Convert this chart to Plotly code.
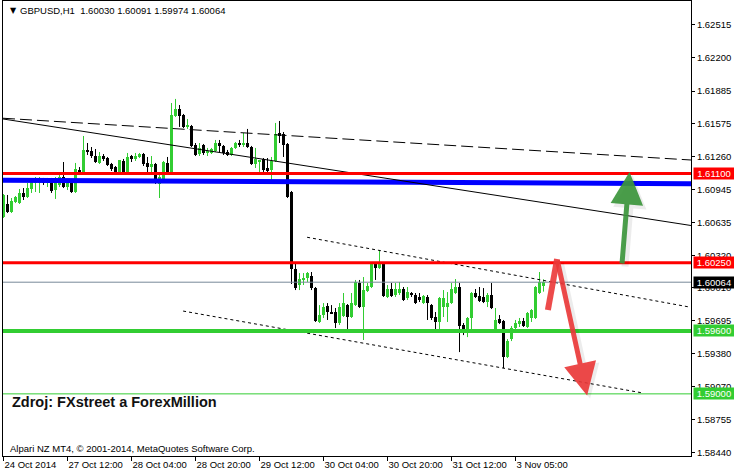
import plotly.graph_objects as go

# ---------------- data (GBPUSD H1) ----------------
opens = [
    1.60685, 1.60809, 1.60733, 1.60828, 1.60818, 1.60914, 1.60876, 1.60952, 1.61009, 1.61009,
    1.61047, 1.61009, 1.61038, 1.60942, 1.60990, 1.61066, 1.60971, 1.61009, 1.60923, 1.61133,
    1.61104, 1.61324, 1.61314, 1.61266, 1.61200, 1.61266, 1.61247, 1.61190, 1.61161, 1.61104,
    1.61219, 1.61114, 1.61257, 1.61247, 1.61257, 1.61285, 1.61200, 1.61161, 1.61190, 1.61000,
    1.61038, 1.61200, 1.61114, 1.61648, 1.61714, 1.61657, 1.61543, 1.61552, 1.61371, 1.61285,
    1.61371, 1.61295, 1.61295, 1.61314, 1.61390, 1.61362, 1.61304, 1.61276, 1.61343, 1.61390,
    1.61371, 1.61390, 1.61352, 1.61190, 1.61209, 1.61238, 1.61152, 1.61133, 1.61219, 1.61486,
    1.61476, 1.61381, 1.60923, 1.60190, 1.60037, 1.60085, 1.60104, 1.60123, 1.60008, 1.59685,
    1.59751, 1.59837, 1.59780, 1.59780, 1.59675, 1.59742, 1.59846, 1.59732, 1.59846, 1.60056,
    1.59827, 1.59980, 1.60018, 1.60247, 1.60199, 1.60237, 1.59923, 1.59999, 1.59942, 1.59961,
    1.59999, 1.59913, 1.59961, 1.59942, 1.59923, 1.59865, 1.59923, 1.59846, 1.59732, 1.59685,
    1.59827, 1.59827, 1.59865, 1.59961, 1.60018, 1.59656, 1.59598, 1.59723, 1.59961, 1.59932,
    1.59923, 1.59875, 1.59942, 1.59608, 1.59713, 1.59694, 1.59351, 1.59522, 1.59627, 1.59665,
    1.59694, 1.59637, 1.59723, 1.59723, 1.59961, 1.60030]

highs = [
    1.60904, 1.60895, 1.60866, 1.60885, 1.60952, 1.60961, 1.61009, 1.61038, 1.61066, 1.61066,
    1.61057, 1.61057, 1.61057, 1.61066, 1.61085, 1.61209, 1.61047, 1.61019, 1.61200, 1.61161,
    1.61457, 1.61390, 1.61352, 1.61333, 1.61304, 1.61285, 1.61257, 1.61200, 1.61171, 1.61228,
    1.61238, 1.61295, 1.61276, 1.61295, 1.61295, 1.61295, 1.61257, 1.61266, 1.61200, 1.61085,
    1.61219, 1.61257, 1.61771, 1.61810, 1.61752, 1.61667, 1.61619, 1.61562, 1.61390, 1.61390,
    1.61381, 1.61343, 1.61343, 1.61419, 1.61419, 1.61371, 1.61324, 1.61352, 1.61400, 1.61419,
    1.61486, 1.61524, 1.61362, 1.61343, 1.61228, 1.61247, 1.61247, 1.61257, 1.61581, 1.61600,
    1.61495, 1.61390, 1.60933, 1.60247, 1.60151, 1.60151, 1.60161, 1.60161, 1.60018, 1.59846,
    1.59865, 1.59865, 1.59846, 1.59818, 1.59865, 1.59961, 1.59856, 1.59961, 1.60085, 1.60085,
    1.60113, 1.60056, 1.60256, 1.60256, 1.60371, 1.60247, 1.60037, 1.60056, 1.60056, 1.60066,
    1.60018, 1.60018, 1.59970, 1.59961, 1.59961, 1.59942, 1.59942, 1.59856, 1.59780, 1.59923,
    1.59989, 1.59970, 1.60056, 1.60094, 1.60056, 1.59675, 1.59732, 1.59970, 1.59999, 1.60018,
    1.60008, 1.59961, 1.60056, 1.59818, 1.59751, 1.59704, 1.59522, 1.59646, 1.59704, 1.59723,
    1.59723, 1.59780, 1.59808, 1.60027, 1.60161, 1.60091]

lows = [
    1.60676, 1.60723, 1.60723, 1.60818, 1.60809, 1.60847, 1.60866, 1.60914, 1.60923, 1.60914,
    1.60990, 1.60971, 1.60914, 1.60857, 1.60971, 1.60961, 1.60942, 1.60914, 1.60914, 1.61085,
    1.61095, 1.61276, 1.61247, 1.61200, 1.61190, 1.61219, 1.61171, 1.61123, 1.61095, 1.61095,
    1.61095, 1.61104, 1.61209, 1.61219, 1.61247, 1.61171, 1.61104, 1.61104, 1.61000, 1.60866,
    1.61028, 1.61104, 1.61104, 1.61638, 1.61543, 1.61533, 1.61524, 1.61352, 1.61266, 1.61266,
    1.61276, 1.61266, 1.61285, 1.61304, 1.61304, 1.61276, 1.61266, 1.61266, 1.61333, 1.61352,
    1.61352, 1.61343, 1.61181, 1.61152, 1.61114, 1.61114, 1.61104, 1.61009, 1.61209, 1.61390,
    1.61257, 1.60866, 1.60047, 1.59989, 1.59989, 1.60037, 1.60066, 1.59989, 1.59685, 1.59675,
    1.59723, 1.59704, 1.59761, 1.59627, 1.59656, 1.59732, 1.59598, 1.59723, 1.59837, 1.59818,
    1.59513, 1.59970, 1.60008, 1.60085, 1.60190, 1.59923, 1.59913, 1.59923, 1.59923, 1.59942,
    1.59885, 1.59894, 1.59923, 1.59856, 1.59875, 1.59856, 1.59704, 1.59704, 1.59598, 1.59598,
    1.59732, 1.59685, 1.59856, 1.59951, 1.59398, 1.59560, 1.59541, 1.59608, 1.59913, 1.59875,
    1.59865, 1.59827, 1.59808, 1.59589, 1.59665, 1.59246, 1.59341, 1.59503, 1.59618, 1.59637,
    1.59637, 1.59627, 1.59685, 1.59713, 1.59951, 1.59974]

closes = [
    1.60895, 1.60733, 1.60838, 1.60876, 1.60914, 1.60876, 1.60961, 1.61019, 1.61038, 1.61047,
    1.61009, 1.61038, 1.60933, 1.61019, 1.61066, 1.60971, 1.61009, 1.60923, 1.61142, 1.61104,
    1.61324, 1.61304, 1.61266, 1.61209, 1.61266, 1.61238, 1.61181, 1.61142, 1.61104, 1.61228,
    1.61114, 1.61257, 1.61238, 1.61266, 1.61285, 1.61190, 1.61161, 1.61190, 1.61009, 1.61066,
    1.61209, 1.61114, 1.61657, 1.61714, 1.61648, 1.61543, 1.61562, 1.61362, 1.61276, 1.61343,
    1.61295, 1.61314, 1.61333, 1.61390, 1.61362, 1.61295, 1.61276, 1.61343, 1.61390, 1.61371,
    1.61390, 1.61352, 1.61190, 1.61238, 1.61228, 1.61133, 1.61123, 1.61219, 1.61476, 1.61457,
    1.61371, 1.60876, 1.60190, 1.60008, 1.60094, 1.60104, 1.60151, 1.60008, 1.59694, 1.59751,
    1.59827, 1.59780, 1.59770, 1.59675, 1.59827, 1.59865, 1.59732, 1.59865, 1.60066, 1.59827,
    1.59989, 1.60027, 1.60247, 1.60199, 1.60237, 1.59932, 1.59999, 1.59932, 1.59999, 1.59999,
    1.59894, 1.59970, 1.59942, 1.59865, 1.59894, 1.59932, 1.59865, 1.59723, 1.59685, 1.59913,
    1.59913, 1.59865, 1.59999, 1.60018, 1.59646, 1.59598, 1.59723, 1.59961, 1.59923, 1.59885,
    1.59875, 1.59942, 1.59818, 1.59704, 1.59675, 1.59351, 1.59503, 1.59627, 1.59675, 1.59694,
    1.59646, 1.59770, 1.59799, 1.60018, 1.60066, 1.60064]

time_tick_bars = [0, 16, 32, 48, 64, 80, 96, 112, 128]
time_tick_labels = ["24 Oct 2014", "27 Oct 12:00", "28 Oct 04:00", "28 Oct 20:00",
                    "29 Oct 12:00", "30 Oct 04:00", "30 Oct 20:00", "31 Oct 12:00",
                    "3 Nov 05:00"]

price_ticks = [1.62515, 1.62200, 1.61885, 1.61575, 1.61260, 1.60945, 1.60635,
               1.60320, 1.60010, 1.59695, 1.59380, 1.59070, 1.58755, 1.58440]
price_tick_labels = ["%.5f" % v for v in price_ticks]

# horizontal levels: (price, colour, width)
levels = [
    (1.61100, "#ff0000", 3),
    (1.60250, "#ff0000", 3),
    (1.59600, "#32cd32", 4),
    (1.59000, "#32cd32", 1),
]
bid_price = 1.60064

# trend lines: (bar0, price0, bar1, price1)
blue_line = (-0.125, 1.61035, 171.875, 1.61003)
dashed_line = (-0.125, 1.61626, 171.875, 1.61228)
solid_line = (-0.125, 1.61619, 171.875, 1.60604)
upper_channel = (75.9, 1.60492, 171.1, 1.59830)
lower_channel = (44.9, 1.59789, 159.9, 1.59008)

# hand-drawn arrows (bar, price)
green_arrow_tail = (154.6, 1.60228)
green_arrow_tip = (156.5, 1.61114)
red_arrow_start = (136.1, 1.59799)
red_arrow_peak = (138.4, 1.60285)
red_arrow_tip = (145.9, 1.58985)

header = "GBPUSD,H1  1.60030 1.60091 1.59974 1.60064"
source_text = "Zdroj: FXstreet a ForexMillion"
copyright_text = "Alpari NZ MT4, \u00a9 2001-2014, MetaQuotes Software Corp."

# ---------------- figure ----------------
assert len(opens) == len(highs) == len(lows) == len(closes)
n = len(opens)
bars = list(range(n))
BULL = "#32cd32"
BEAR = "#000000"
FONT = "Liberation Sans, Arial, sans-serif"
FS = 9.5

up = [i for i in bars if closes[i] >= opens[i]]
dn = [i for i in bars if closes[i] < opens[i]]

fig = go.Figure()
for idx, col in ((up, BULL), (dn, BEAR)):
    xs, ys = [], []
    for i in idx:
        xs += [i, i, None]
        ys += [lows[i], highs[i], None]
    fig.add_trace(go.Scatter(x=xs, y=ys, mode="lines",
                             line=dict(color=col, width=1),
                             hoverinfo="skip", showlegend=False))
for idx, col in ((up, BULL), (dn, BEAR)):
    fig.add_trace(go.Bar(x=idx, base=[opens[i] for i in idx],
                         y=[closes[i] - opens[i] for i in idx],
                         width=0.75, marker=dict(color=col, line=dict(width=0)),
                         showlegend=False, hoverinfo="skip"))

shapes = []
def seg(t, color, width, dash="solid"):
    shapes.append(dict(type="line", xref="x", yref="y", x0=t[0], y0=t[1],
                       x1=t[2], y1=t[3], layer="above",
                       line=dict(color=color, width=width, dash=dash)))

seg(blue_line, "#0000ff", 5)
seg(dashed_line, "#000000", 1, "12px,5px")
seg(solid_line, "#000000", 1)
seg(upper_channel, "#000000", 1, "3px,3px")
seg(lower_channel, "#000000", 1, "3px,3px")

shapes.append(dict(type="line", xref="paper", yref="y", x0=0, x1=1,
                   y0=bid_price, y1=bid_price, layer="above",
                   line=dict(color="#778899", width=1)))
for p, col, w in levels:
    shapes.append(dict(type="line", xref="paper", yref="y", x0=0, x1=1,
                       y0=p, y1=p, layer="above", line=dict(color=col, width=w)))

# red arrow first stroke
shapes.append(dict(type="line", xref="x", yref="y",
                   x0=red_arrow_start[0], y0=red_arrow_start[1],
                   x1=red_arrow_peak[0], y1=red_arrow_peak[1], layer="above",
                   line=dict(color="rgba(235,55,55,0.9)", width=6)))

annotations = []
# soft arrow shadows
for tail, tip in ((green_arrow_tail, green_arrow_tip), (red_arrow_peak, red_arrow_tip)):
    annotations.append(dict(x=tip[0], y=tip[1], ax=tail[0], ay=tail[1],
                            xref="x", yref="y", axref="x", ayref="y",
                            text="", showarrow=True, arrowhead=2, arrowsize=0.95,
                            arrowwidth=7, arrowcolor="rgba(0,0,0,0.07)",
                            xshift=3, yshift=-3))
annotations.append(dict(x=green_arrow_tip[0], y=green_arrow_tip[1],
                        ax=green_arrow_tail[0], ay=green_arrow_tail[1],
                        xref="x", yref="y", axref="x", ayref="y", text="",
                        showarrow=True, arrowhead=2, arrowsize=1.3, arrowwidth=5,
                        arrowcolor="rgba(60,150,60,0.92)"))
annotations.append(dict(x=red_arrow_tip[0], y=red_arrow_tip[1],
                        ax=red_arrow_peak[0], ay=red_arrow_peak[1],
                        xref="x", yref="y", axref="x", ayref="y", text="",
                        showarrow=True, arrowhead=2, arrowsize=1.3, arrowwidth=5,
                        arrowcolor="rgba(235,55,55,0.9)"))

# price tags on the axis
tag_items = [(levels[0][0], "#ff0000"), (levels[1][0], "#ff0000"),
             (bid_price, "#000000"), (levels[2][0], "#32cd32"),
             (levels[3][0], "#32cd32")]
for p, col in tag_items:
    annotations.append(dict(x=1, xref="paper", y=p, yref="y", xanchor="left",
                            yanchor="middle", xshift=2, text="%.5f" % p,
                            showarrow=False, bgcolor=col, borderpad=0,
                            width=40, height=11, align="center",
                            font=dict(family=FONT, size=FS, color="#ffffff")))

# header / texts
annotations.append(dict(x=0, xref="paper", y=0.9802, yref="paper",
                        xanchor="left", yanchor="middle", xshift=5,
                        text="\u25bc", showarrow=False,
                        font=dict(family="DejaVu Sans", size=8, color="#000000")))
annotations.append(dict(x=0, xref="paper", y=0.9802, yref="paper",
                        xanchor="left", yanchor="middle", xshift=15,
                        text=header, showarrow=False,
                        font=dict(family=FONT, size=FS, color="#000000")))
annotations.append(dict(x=0, xref="paper", y=0.1187, yref="paper",
                        xanchor="left", yanchor="middle", xshift=7,
                        text="<b>%s</b>" % source_text, showarrow=False,
                        font=dict(family="Liberation Sans, Arial, sans-serif",
                                  size=14.5, color="#111111")))
annotations.append(dict(x=0, xref="paper", y=0.0154, yref="paper",
                        xanchor="left", yanchor="middle", xshift=5,
                        text=copyright_text, showarrow=False,
                        font=dict(family=FONT, size=FS, color="#000000")))

fig.update_layout(
    width=734, height=475,
    margin=dict(l=3, r=43, t=1, b=19, autoexpand=False),
    paper_bgcolor="#ffffff", plot_bgcolor="#ffffff",
    barmode="overlay", bargap=0,
    showlegend=False,
    shapes=shapes, annotations=annotations,
    xaxis=dict(range=[-0.125, 171.875], showgrid=False, zeroline=False,
               showline=True, linecolor="#000000", linewidth=1, mirror=True,
               ticks="outside", ticklen=4, tickcolor="#000000",
               tickvals=time_tick_bars, ticktext=time_tick_labels,
               ticklabelposition="outside right", tickangle=0,
               automargin=False, ticklabeloverflow="allow",
               tickfont=dict(family=FONT, size=FS, color="#000000"),
               fixedrange=True),
    yaxis=dict(range=[1.58408, 1.62743], side="right", showgrid=False,
               zeroline=False, showline=True, linecolor="#000000", linewidth=1,
               mirror=True, ticks="outside", ticklen=3, tickcolor="#000000",
               tickvals=price_ticks, ticktext=price_tick_labels,
               automargin=False, ticklabeloverflow="allow",
               tickfont=dict(family=FONT, size=FS, color="#000000"),
               fixedrange=True),
)

fig.write_html("out.html", config={"displayModeBar": False},
               post_script="document.body.style.margin='0px';"
                           "document.body.style.overflow='hidden';")
